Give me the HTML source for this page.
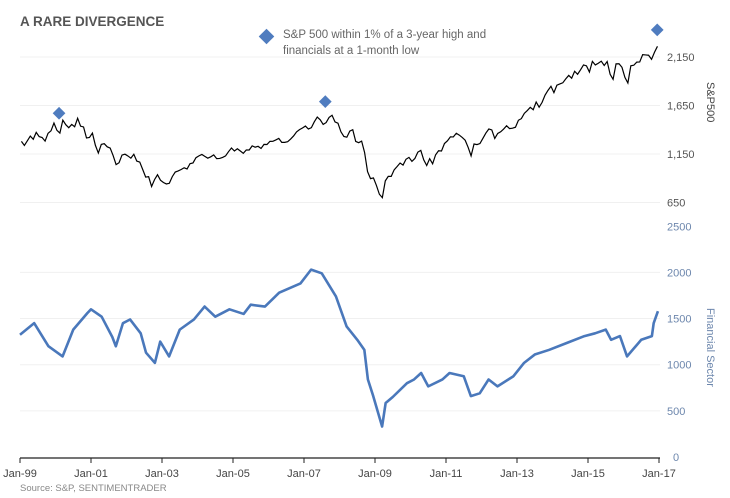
<!DOCTYPE html>
<html><head><meta charset="utf-8"><style>
body{margin:0;background:#fff;width:730px;height:498px;overflow:hidden;font-family:"Liberation Sans",sans-serif}
svg{display:block}
</style></head><body>
<svg id="chart" width="730" height="498">
<text x="20" y="26" font-size="13.5" font-weight="bold" fill="#555">A RARE DIVERGENCE</text>
<g>
<rect x="261" y="31" width="11" height="11" fill="#4f7cbf" transform="rotate(45 266.5 36.5)"/>
<text x="283" y="38" font-size="11.5" fill="#666">S&amp;P 500 within 1% of a 3-year high and</text>
<text x="283" y="54" font-size="11.5" fill="#666">financials at a 1-month low</text>
</g>
<text x="20" y="491" font-size="9.5" fill="#888">Source: S&amp;P, SENTIMENTRADER</text>
<g id="grid"></g><g id="marks"></g><g id="axes"></g>
</svg>
<script>
const spxTicks=[650,1150,1650,2150];
const finTicks=[0,500,1000,1500,2000,2500];
const xTickLabels=["Jan-99","Jan-01","Jan-03","Jan-05","Jan-07","Jan-09","Jan-11","Jan-13","Jan-15","Jan-17"];
const xTickYears=[1999,2001,2003,2005,2007,2009,2011,2013,2015,2017];
const spxValues=[1280,1238,1286,1335,1302,1373,1329,1320,1283,1363,1389,1469,
1394,1366,1499,1452,1421,1455,1431,1518,1437,1429,1315,1320,
1366,1240,1160,1249,1256,1224,1211,1134,1041,1060,1139,1148,
1130,1107,1147,1077,1067,990,912,916,815,886,936,880,
856,841,848,917,964,975,990,1008,996,1051,1058,1112,
1131,1145,1126,1107,1121,1141,1102,1104,1115,1130,1174,1212,
1181,1204,1181,1157,1192,1191,1234,1220,1229,1207,1249,1248,
1280,1281,1295,1311,1270,1270,1277,1304,1336,1378,1401,1418,
1438,1407,1421,1482,1531,1503,1455,1474,1527,1549,1481,1468,
1379,1331,1323,1386,1400,1280,1267,1283,1166,969,896,903,
826,735,700,873,919,919,987,1021,1057,1036,1096,1115,
1074,1104,1169,1187,1089,1031,1102,1049,1141,1183,1181,1258,
1286,1327,1326,1364,1345,1321,1292,1219,1131,1253,1247,1258,
1312,1366,1408,1398,1310,1362,1379,1407,1441,1412,1416,1426,
1498,1515,1569,1598,1631,1606,1686,1633,1682,1757,1806,1848,
1783,1859,1872,1884,1924,1960,1931,2003,1972,2018,2068,2059,
1995,2105,2068,2086,2107,2063,2104,1972,1920,2079,2080,2044,
1940,1882,2060,2065,2097,2099,2174,2171,2168,2126,2199,2260];
const finDates=[1999.0,1999.4,1999.8,2000.2,2000.5,2000.9,2001.0,2001.3,2001.6,2001.7,2001.9,2002.1,2002.4,2002.55,2002.8,2002.95,2003.2,2003.5,2003.9,2004.2,2004.5,2004.9,2005.3,2005.5,2005.9,2006.3,2006.9,2007.2,2007.5,2007.9,2008.2,2008.5,2008.7,2008.8,2008.95,2009.2,2009.3,2009.5,2009.9,2010.1,2010.3,2010.5,2010.9,2011.1,2011.5,2011.7,2011.95,2012.2,2012.45,2012.9,2013.2,2013.5,2013.9,2014.4,2014.9,2015.2,2015.5,2015.65,2015.9,2016.1,2016.5,2016.8,2016.85,2016.97];
const finValues=[1325,1450,1200,1090,1380,1560,1600,1520,1300,1200,1450,1490,1340,1130,1020,1250,1090,1380,1490,1630,1520,1600,1550,1650,1630,1780,1880,2030,1990,1740,1415,1270,1160,840,660,330,585,650,800,840,910,765,840,910,875,660,690,840,765,875,1020,1110,1160,1235,1310,1340,1380,1270,1310,1090,1270,1310,1450,1580];
const diamondYears=[2000.1,2007.6,2016.95];
const diamondValues=[1570,1690,2430];

const NS="http://www.w3.org/2000/svg";
const x=t=>20+(t-1999)*35.5;
const ySpx=v=>57+(2150-v)*0.097;
const yFin=v=>457-v*0.0923;
function el(tag,attrs,parent){const e=document.createElementNS(NS,tag);for(const k in attrs)e.setAttribute(k,attrs[k]);parent.appendChild(e);return e;}
const grid=document.getElementById('grid'),marks=document.getElementById('marks'),axes=document.getElementById('axes');
spxTicks.forEach(v=>{
 const g=el('line',{x1:20,x2:660,y1:ySpx(v),y2:ySpx(v),stroke:'#f0f0f0','stroke-width':1},grid);
 
 
 const t=el('text',{x:667,y:ySpx(v)+4,'font-size':11,fill:'#555'},axes);
 t.textContent=v.toLocaleString('en-US');
 
 
});
finTicks.forEach(v=>{
 if(v>0&&v<2500){const g=el('line',{x1:20,x2:660,y1:yFin(v),y2:yFin(v),stroke:'#f0f0f0','stroke-width':1},grid);
 
 }
 const t=el('text',{x:v===0?673:667,y:yFin(v)+4,'font-size':11,fill:'#6d87ad'},axes);
 t.textContent=String(v);
 
 
});
const ax=el('line',{x1:20,x2:660,y1:458,y2:458,stroke:'#222','stroke-width':1.2},axes);


xTickYears.forEach((yr,i)=>{
 const tk=el('line',{x1:x(yr),x2:x(yr),y1:458,y2:463,stroke:'#222'},axes);
 
 
 const t=el('text',{x:x(yr),y:477,'font-size':11,fill:'#444','text-anchor':'middle'},axes);
 t.textContent=xTickLabels[i];
 
 
});
const t1=el('text',{x:0,y:0,'font-size':11,fill:'#444',transform:'translate(707,82) rotate(90)'},axes);
t1.textContent='S&P500';


const t2=el('text',{x:0,y:0,'font-size':11,fill:'#6d87ad',transform:'translate(707,308) rotate(90)'},axes);
t2.textContent='Financial Sector';


const sp=el('polyline',{points:spxValues.map((v,i)=>x(1999.04+i/12)+','+ySpx(v)).join(' '),fill:'none',stroke:'#000','stroke-width':1.2},marks);


const fl=el('polyline',{points:finValues.map((v,i)=>x(finDates[i])+','+yFin(v)).join(' '),fill:'none',stroke:'#4a78bb','stroke-width':2.6,'stroke-linejoin':'round'},marks);


diamondYears.forEach((yr,i)=>{
 const cx=x(yr),cy=ySpx(diamondValues[i]);
 const d=el('rect',{x:cx-4.5,y:cy-4.5,width:9,height:9,fill:'#4f7cbf',transform:`rotate(45 ${cx} ${cy})`},marks);
 
 
});
</script>
</body></html>
